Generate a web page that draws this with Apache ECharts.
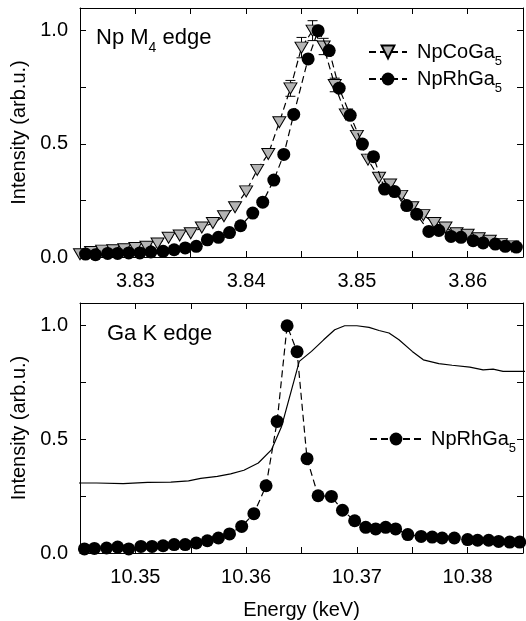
<!DOCTYPE html>
<html lang="en">
<head>
    <meta charset="utf-8" />
    <title>Np M4 / Ga K edge</title>
    <style>
      html, body { margin: 0; padding: 0; background: #fff; }
      #main { width: 526px; height: 621px; }
    </style>
</head>
<body>
    <div id="main"></div>
    <script src="https://cdn.jsdelivr.net/npm/echarts@6/dist/echarts.min.js"></script>
    <script>
    // Np M4 edge - NpCoGa5 (triangles)
    var coEnergy = [3.825, 3.826, 3.827, 3.828, 3.829, 3.830, 3.831, 3.832, 3.833, 3.834,
      3.835, 3.836, 3.837, 3.838, 3.839, 3.840, 3.841, 3.842, 3.843, 3.844,
      3.845, 3.846, 3.847, 3.848, 3.849, 3.850, 3.851, 3.852, 3.853, 3.854,
      3.855, 3.856, 3.857, 3.858, 3.859, 3.860, 3.861, 3.862, 3.863, 3.864];
    var coInt = [0.012, 0.022, 0.028, 0.030, 0.034, 0.040, 0.045, 0.060, 0.085, 0.095,
      0.105, 0.130, 0.150, 0.180, 0.220, 0.290, 0.385, 0.455, 0.595, 0.745,
      0.925, 1.000, 0.930, 0.760, 0.630, 0.535, 0.430, 0.350, 0.320, 0.270,
      0.220, 0.185, 0.150, 0.130, 0.105, 0.098, 0.083, 0.072, 0.057, 0.047];
    // error bars (energy, half width)
    var coErrE = [3.844, 3.845, 3.846, 3.847, 3.848];
    var coErr = [0.035, 0.045, 0.044, 0.036, 0.030];

    // Np M4 edge - NpRhGa5 (circles)
    var rhEnergy = [3.8255, 3.8264, 3.8275, 3.8284, 3.8294, 3.8304, 3.8314, 3.8325, 3.8335, 3.8345,
      3.8355, 3.8365, 3.8375, 3.8385, 3.8395, 3.8406, 3.8415, 3.8425, 3.8434, 3.8443,
      3.8456, 3.8465, 3.8475, 3.8484, 3.8494, 3.8505, 3.8515, 3.8525, 3.8534, 3.8545,
      3.8554, 3.8565, 3.8574, 3.8585, 3.8594, 3.8605, 3.8614, 3.8625, 3.8634, 3.8644];
    var rhInt = [0.013, 0.010, 0.016, 0.016, 0.018, 0.018, 0.022, 0.025, 0.032, 0.040,
      0.047, 0.076, 0.087, 0.108, 0.138, 0.194, 0.242, 0.340, 0.453, 0.630,
      0.875, 1.000, 0.912, 0.746, 0.626, 0.499, 0.443, 0.300, 0.289, 0.227,
      0.189, 0.113, 0.117, 0.091, 0.087, 0.072, 0.062, 0.057, 0.047, 0.044];

    // Ga K edge - NpRhGa5 (circles)
    var gaEnergy = [10.3454, 10.3463, 10.3474, 10.3484, 10.3494, 10.3505, 10.3515, 10.3525, 10.3535, 10.3545,
      10.3555, 10.3565, 10.3575, 10.3585, 10.3596, 10.3607, 10.3618, 10.3628, 10.3637, 10.3646,
      10.3655, 10.3665, 10.3677, 10.3687, 10.3698, 10.3708, 10.3717, 10.3726, 10.3735, 10.3746,
      10.3758, 10.3768, 10.3777, 10.3788, 10.3800, 10.3809, 10.3819, 10.3828, 10.3838, 10.3847];
    var gaInt = [0.018, 0.020, 0.022, 0.026, 0.018, 0.029, 0.029, 0.032, 0.037, 0.037,
      0.044, 0.054, 0.066, 0.084, 0.117, 0.173, 0.296, 0.579, 1.000, 0.886,
      0.415, 0.252, 0.249, 0.188, 0.142, 0.113, 0.106, 0.113, 0.106, 0.081,
      0.073, 0.070, 0.066, 0.066, 0.059, 0.056, 0.056, 0.051, 0.048, 0.048];

    // Ga K edge - absorption (solid line)
    var absEnergy = [10.3447, 10.3465, 10.3489, 10.3511, 10.3532, 10.3548, 10.3559, 10.3574, 10.3586, 10.3598,
      10.3611, 10.3623, 10.3632, 10.3641, 10.3648, 10.3659, 10.3670, 10.3680, 10.3689, 10.3700,
      10.3711, 10.3720, 10.3729, 10.3738, 10.3750, 10.3760, 10.3774, 10.3786, 10.3802, 10.3814,
      10.3823, 10.3832, 10.3853];
    var absInt = [0.308, 0.308, 0.305, 0.311, 0.312, 0.317, 0.328, 0.337, 0.348, 0.364,
      0.396, 0.455, 0.557, 0.718, 0.843, 0.887, 0.938, 0.982, 1.000, 1.000,
      0.993, 0.979, 0.968, 0.938, 0.887, 0.850, 0.833, 0.826, 0.818, 0.806,
      0.809, 0.799, 0.799];

    var yLabels = [0, 0.5, 1.0];

    function zip(xs, ys) {
      var out = [];
      for (var i = 0; i < xs.length; i++) out.push([xs[i], ys[i]]);
      return out;
    }

    var FONT = "Liberation Sans";
    var dash = [7, 4];

    function xAx(idx, min, max, pos, showLabel, name) {
      return {
        type: "value", gridIndex: idx, position: pos, min: min, max: max, interval: 0.005,
        name: name || "", nameLocation: "middle", nameGap: 47,
        nameTextStyle: { fontFamily: FONT, fontSize: 20, color: "#000" },
        axisLine: { show: true, onZero: false, lineStyle: { color: "#000", width: 1 } },
        axisTick: { show: true, inside: true, length: 6, lineStyle: { color: "#000" } },
        axisLabel: {
          show: showLabel, margin: 14, fontFamily: FONT, fontSize: 20, color: "#000",
          formatter: function(v) {
            var k = v * 100;
            return Math.abs(k - Math.round(k)) < 1e-6 ? v.toFixed(2) : "";
          }
        },
        splitLine: { show: false }
      };
    }
    function yAx(idx, pos, showLabel) {
      return {
        type: "value", gridIndex: idx, position: pos, min: 0, max: 1.1, interval: 0.25,
        name: showLabel ? "Intensity (arb.u.)" : "", nameLocation: "middle", nameGap: 48,
        nameTextStyle: { fontFamily: FONT, fontSize: 20, color: "#000" },
        axisLine: { show: true, onZero: false, lineStyle: { color: "#000", width: 1 } },
        axisTick: { show: true, inside: true, length: 6, lineStyle: { color: "#000" } },
        axisLabel: {
          show: showLabel, margin: 12, fontFamily: FONT, fontSize: 20, color: "#000",
          formatter: function(v) {
            for (var i = 0; i < yLabels.length; i++) {
              if (Math.abs(v - yLabels[i]) < 1e-6) return v.toFixed(1);
            }
            return "";
          }
        },
        splitLine: { show: false }
      };
    }

    var rich = {
      a: { fontFamily: FONT, fontSize: 20, color: "#000", fontWeight: "normal" },
      s: { fontFamily: FONT, fontSize: 13, color: "#000", fontWeight: "normal", verticalAlign: "bottom", padding: [0, 0, -6, 0] }
    };
    var richTitle = {
      a: { fontFamily: FONT, fontSize: 22, color: "#000", fontWeight: "normal" },
      s: { fontFamily: FONT, fontSize: 14, color: "#000", fontWeight: "normal", verticalAlign: "bottom", padding: [0, 0, -6, 0] }
    };

    var chart = echarts.init(document.getElementById("main"));
    var option = {
      animation: false,
      backgroundColor: "#fff",
      grid: [
        { left: 80, top: 8, right: -1, height: 249 },
        { left: 80, top: 303, right: -1, height: 250 }
      ],
      title: [
        { text: "{a|Np M}{s|4}{a| edge}", left: 91, top: 22, textStyle: { fontWeight: "normal", rich: richTitle } },
        { text: "{a|Ga K edge}", left: 102, top: 318, textStyle: { fontWeight: "normal", rich: richTitle } }
      ],
      legend: [
        {
          data: ["NpCoGa5", "NpRhGa5"], orient: "vertical", left: 363, top: 37,
          itemWidth: 38, itemHeight: 16, itemGap: 1,
          formatter: function(n) { return "{a|" + n.slice(0, -1) + "}{s|5}"; },
          textStyle: { padding: [0, 0, 0, 5], rich: rich }
        },
        {
          data: ["NpRhGa5 "], left: 364, top: 424,
          itemWidth: 52, itemHeight: 16,
          formatter: function(n) { return "{a|NpRhGa}{s|5}"; },
          textStyle: { padding: [0, 0, 0, 4], rich: rich }
        }
      ],
      xAxis: [
        xAx(0, 3.825, 3.865, "bottom", true),
        xAx(0, 3.825, 3.865, "top", false),
        xAx(1, 10.345, 10.385, "bottom", true, "Energy (keV)"),
        xAx(1, 10.345, 10.385, "top", false)
      ],
      yAxis: [
        yAx(0, "left", true),
        yAx(0, "right", false),
        yAx(1, "left", true),
        yAx(1, "right", false)
      ],
      series: [
        {
          name: "NpCoGa5", type: "line", xAxisIndex: 0, yAxisIndex: 0,
          data: zip(coEnergy, coInt),
          symbol: "triangle", symbolSize: [13, 11], symbolRotate: 180,
          itemStyle: { color: "#b4b4b4", borderColor: "#000", borderWidth: 1 },
          lineStyle: { color: "#000", width: 1.2, type: dash },
          z: 2
        },
        {
          type: "custom", xAxisIndex: 0, yAxisIndex: 0, z: 1,
          data: coErrE.map(function(e, i) { return [e, coInt[coEnergy.indexOf(e)] - coErr[i], coInt[coEnergy.indexOf(e)] + coErr[i]]; }),
          renderItem: function(params, api) {
            var lo = api.coord([api.value(0), api.value(1)]);
            var hi = api.coord([api.value(0), api.value(2)]);
            var st = { stroke: "#000", lineWidth: 1 };
            return {
              type: "group",
              children: [
                { type: "line", shape: { x1: lo[0], y1: lo[1], x2: hi[0], y2: hi[1] }, style: st },
                { type: "line", shape: { x1: hi[0] - 5, y1: hi[1], x2: hi[0] + 5, y2: hi[1] }, style: st },
                { type: "line", shape: { x1: lo[0] - 5, y1: lo[1], x2: lo[0] + 5, y2: lo[1] }, style: st }
              ]
            };
          }
        },
        {
          name: "NpRhGa5", type: "line", xAxisIndex: 0, yAxisIndex: 0,
          data: zip(rhEnergy, rhInt),
          symbol: "circle", symbolSize: 13,
          itemStyle: { color: "#000" },
          lineStyle: { color: "#000", width: 1.2, type: dash },
          z: 3
        },
        {
          type: "line", xAxisIndex: 2, yAxisIndex: 2,
          data: zip(absEnergy, absInt),
          showSymbol: false, symbol: "none",
          lineStyle: { color: "#000", width: 1.2 },
          z: 2
        },
        {
          name: "NpRhGa5 ", type: "line", xAxisIndex: 2, yAxisIndex: 2,
          data: zip(gaEnergy, gaInt),
          symbol: "circle", symbolSize: 13,
          itemStyle: { color: "#000" },
          lineStyle: { color: "#000", width: 1.2, type: dash },
          z: 3
        }
      ]
    };
    chart.setOption(option);
    </script>
</body>
</html>
